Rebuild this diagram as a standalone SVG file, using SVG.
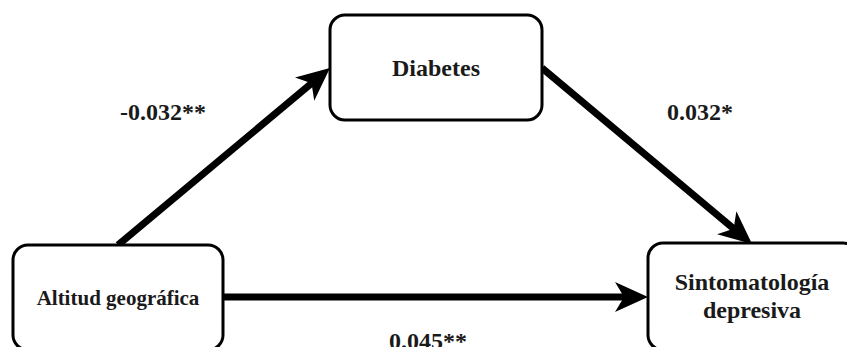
<svg xmlns="http://www.w3.org/2000/svg" width="847" height="347" viewBox="0 0 847 347">
<style>
.box{fill:#fff;stroke:#000;stroke-width:3}
.lbl{font-family:"Liberation Serif","Times New Roman",serif;font-weight:bold;fill:#1a1a1a;text-anchor:middle}
.edge{stroke:#000;stroke-width:7;fill:none}
</style>
<defs>
<marker id="ah" markerUnits="userSpaceOnUse" markerWidth="40" markerHeight="40" viewBox="-40 -20 40 40" refX="-20" refY="0" orient="auto">
<path d="M0,0 L-33,-15 L-24,0 L-33,15 Z" fill="#000"/>
</marker>
</defs>
<rect width="847" height="347" fill="#fff"/>
<g id="connectors">
<path class="edge" d="M118,245 L314.6,80.8" marker-end="url(#ah)"/>
<path class="edge" d="M542,68 L736.7,231.2" marker-end="url(#ah)"/>
<path class="edge" d="M223,297 L628,297" marker-end="url(#ah)"/>
<text class="lbl" x="163" y="120" font-size="24">-0.032**</text>
<text class="lbl" x="700" y="120" font-size="24">0.032*</text>
<text class="lbl" x="428" y="349" font-size="24">0.045**</text>
</g>
<g id="diabetes">
<rect class="box" x="330" y="15" width="212" height="105" rx="15"/>
<text class="lbl" x="436" y="76" font-size="24">Diabetes</text>
</g>
<g id="altitud">
<rect class="box" x="13" y="245" width="210" height="105" rx="15"/>
<text class="lbl" x="118" y="305" font-size="21">Altitud geográfica</text>
</g>
<g id="sintomatologia">
<rect class="box" x="648" y="243" width="210" height="107" rx="15"/>
<text class="lbl" x="752" y="290" font-size="24">Sintomatología</text>
<text class="lbl" x="752" y="318" font-size="24">depresiva</text>
</g>
</svg>
